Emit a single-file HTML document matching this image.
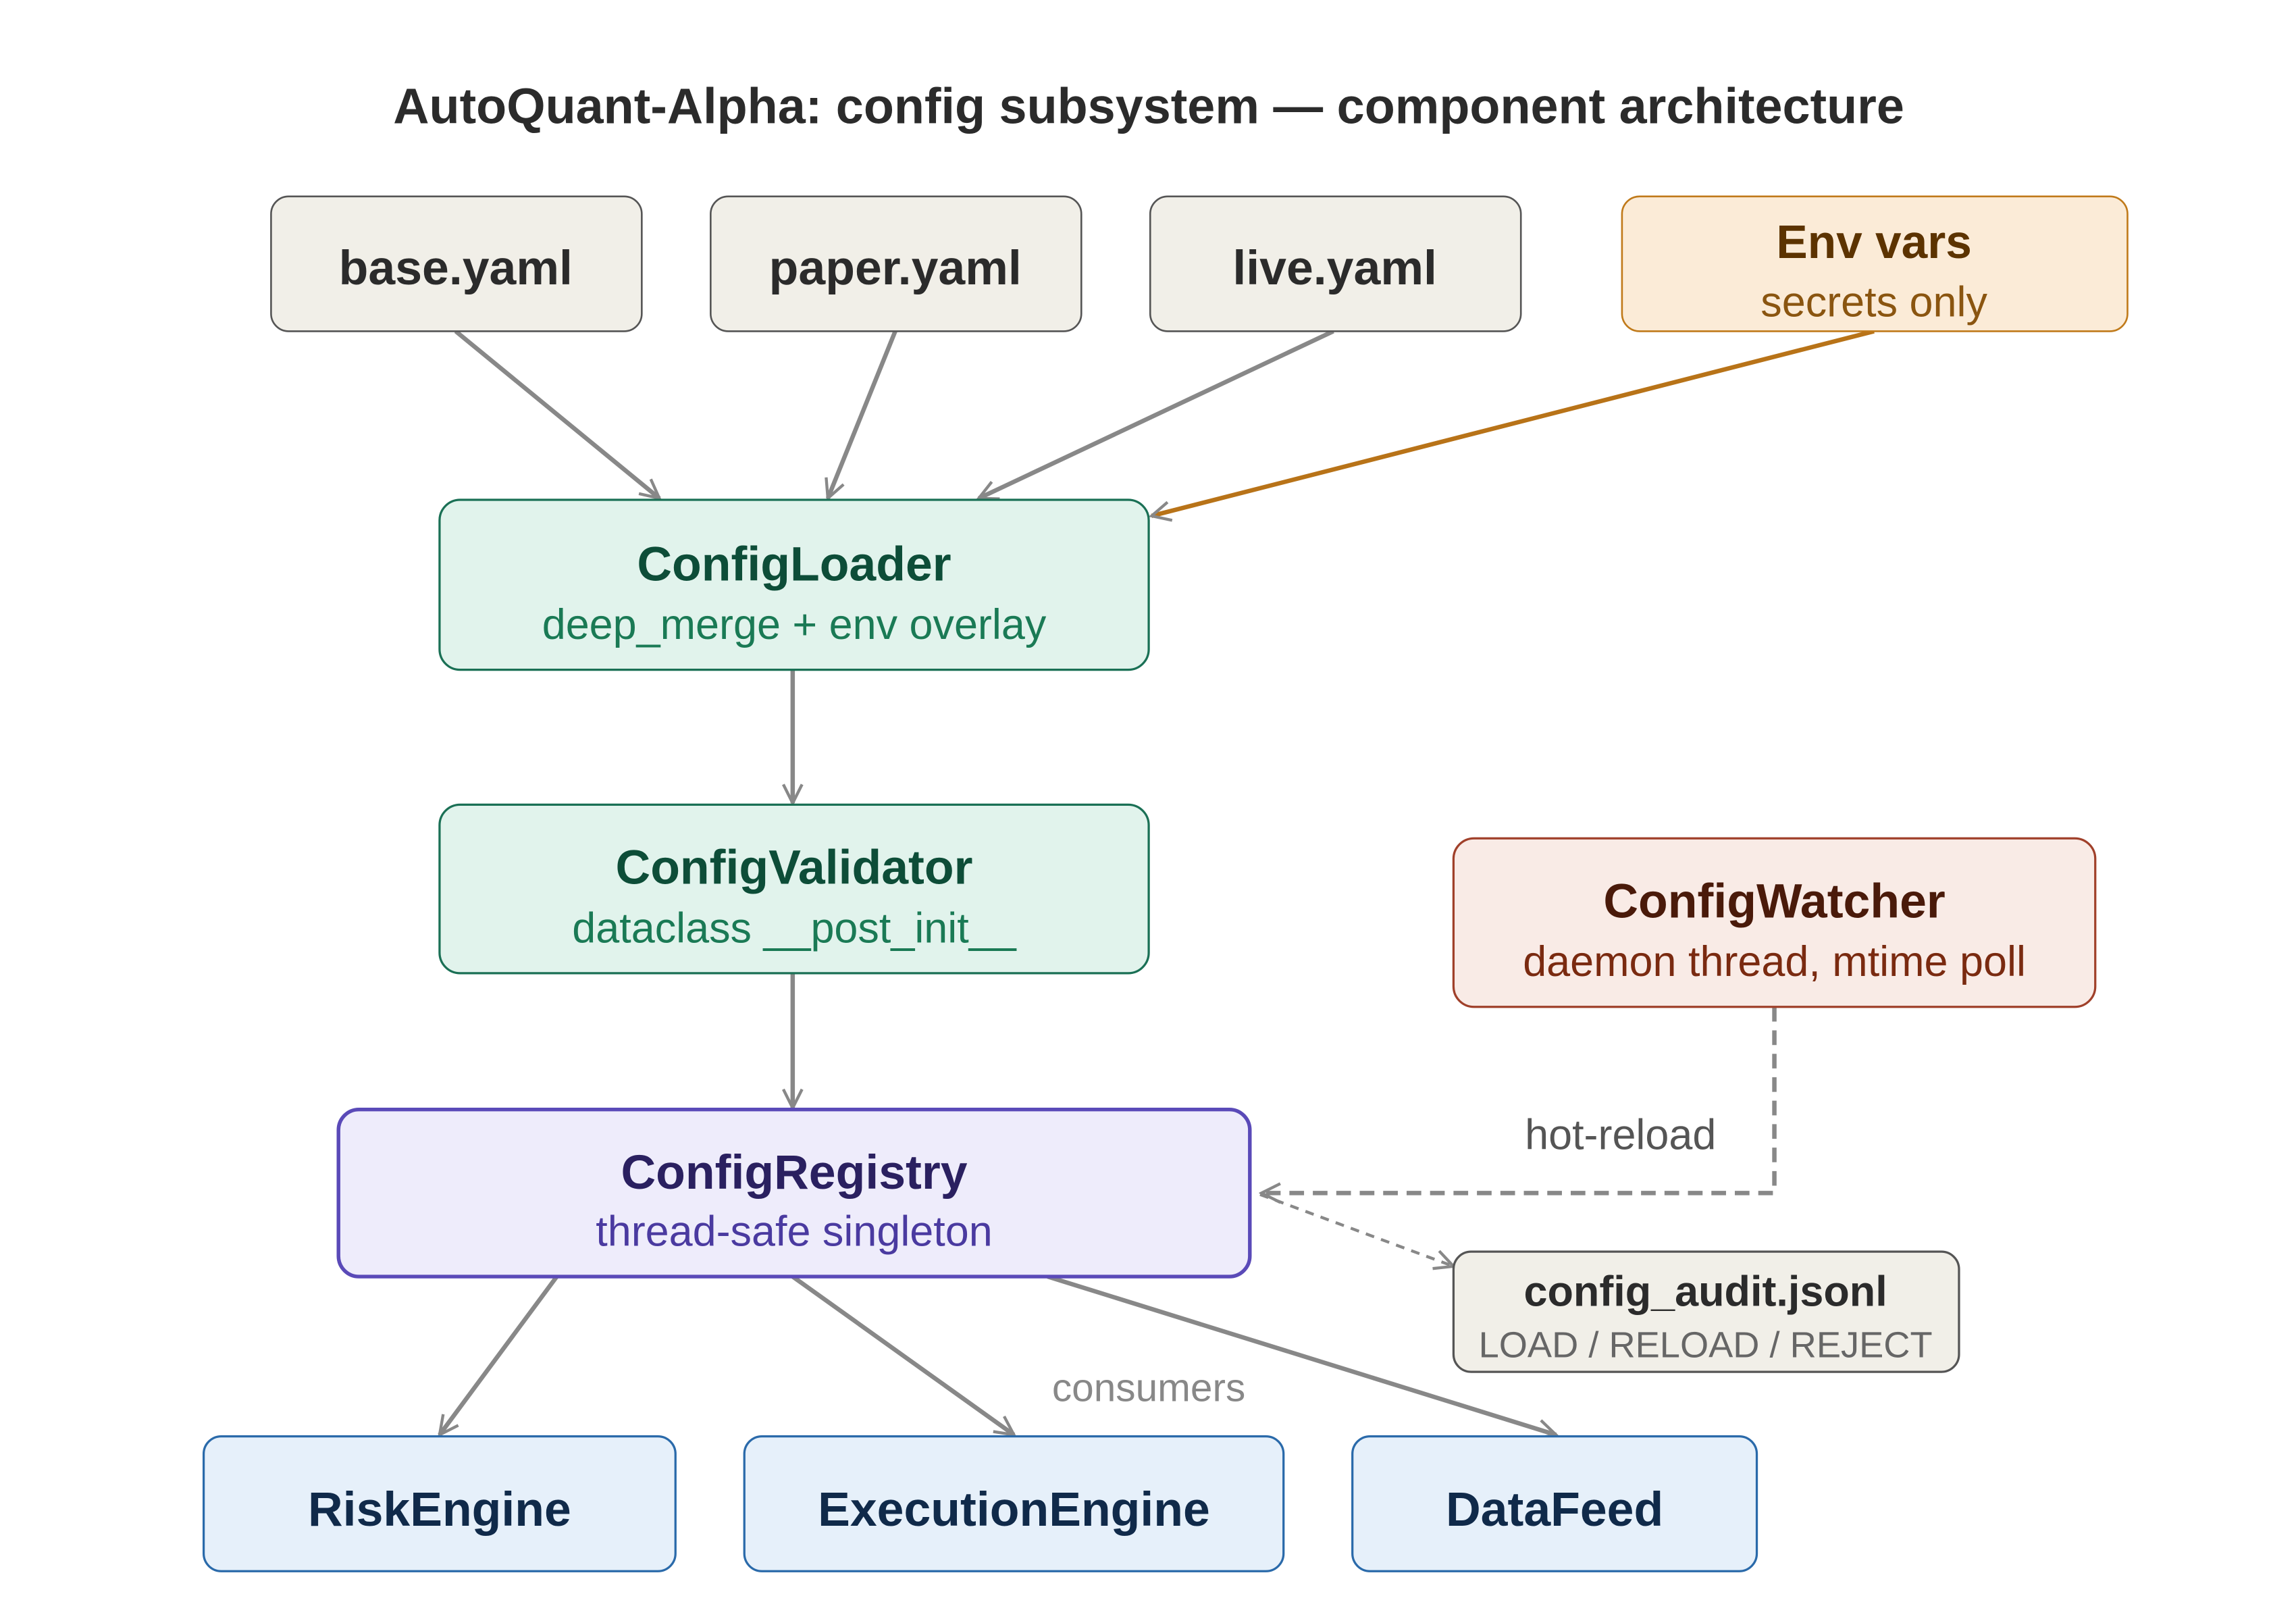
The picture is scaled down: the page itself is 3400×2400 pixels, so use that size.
<!DOCTYPE html>
<html><head><meta charset="utf-8"><style>html,body{margin:0;padding:0;background:#fff}svg{display:block}</style></head>
<body>
<svg width="3400" height="2400" viewBox="0 0 1567 1106" preserveAspectRatio="none" xmlns="http://www.w3.org/2000/svg" font-family="'Liberation Sans', sans-serif">
<defs>
<marker id="a" viewBox="0 0 20 20" refX="18" refY="10" markerWidth="16" markerHeight="16" markerUnits="userSpaceOnUse" orient="auto"><path d="M2,2 L18,10 L2,18" fill="none" stroke="#888" stroke-width="2.5"/></marker>
<marker id="ao" viewBox="0 0 20 20" refX="18" refY="10" markerWidth="16" markerHeight="16" markerUnits="userSpaceOnUse" orient="auto"><path d="M2,2 L18,10 L2,18" fill="none" stroke="#888" stroke-width="2.5"/></marker>
</defs>
<rect width="1567" height="1106" fill="#fff"/>
<text x="784" y="84" text-anchor="middle" font-size="34" font-weight="bold" fill="#2b2b2b">AutoQuant-Alpha: config subsystem — component architecture</text>

<g stroke="#888" stroke-width="3" fill="none" marker-end="url(#a)">
<line x1="311" y1="226" x2="450" y2="340"/>
<line x1="611" y1="226" x2="565" y2="340"/>
<line x1="910" y1="226" x2="668" y2="340"/>
<line x1="541" y1="457" x2="541" y2="548"/>
<line x1="541" y1="664" x2="541" y2="756"/>
<line x1="380" y1="871" x2="300" y2="979"/>
<line x1="541" y1="871" x2="692" y2="979"/>
<line x1="715" y1="871" x2="1062" y2="979"/>
</g>
<line x1="1279" y1="226" x2="786" y2="352" stroke="#b87318" stroke-width="3" marker-end="url(#ao)"/>
<polyline points="1211,687 1211,814 861,814" fill="none" stroke="#888" stroke-width="3" stroke-dasharray="10,6" marker-end="url(#a)"/>
<line x1="860" y1="815" x2="992" y2="864" stroke="#888" stroke-width="2" stroke-dasharray="6,5" marker-end="url(#a)"/>
<text x="1106" y="784" text-anchor="middle" font-size="29" fill="#555">hot-reload</text>
<text x="784" y="956" text-anchor="middle" font-size="27" fill="#888">consumers</text>

<g font-size="33" font-weight="bold" fill="#2b2b2b" text-anchor="middle">
<rect x="185" y="134" width="253" height="92" rx="12" fill="#f1efe8" stroke="#555" stroke-width="1.2"/>
<text x="311" y="194">base.yaml</text>
<rect x="485" y="134" width="253" height="92" rx="12" fill="#f1efe8" stroke="#555" stroke-width="1.2"/>
<text x="611" y="194">paper.yaml</text>
<rect x="785" y="134" width="253" height="92" rx="12" fill="#f1efe8" stroke="#555" stroke-width="1.2"/>
<text x="911" y="194">live.yaml</text>
</g>
<rect x="1107" y="134" width="345" height="92" rx="12" fill="#fbebd7" stroke="#c07a1a" stroke-width="1.2"/>
<text x="1279" y="176" text-anchor="middle" font-size="32" font-weight="bold" fill="#5c3300">Env vars</text>
<text x="1279" y="216" text-anchor="middle" font-size="29" fill="#8a5510">secrets only</text>

<rect x="300" y="341" width="484" height="116" rx="14" fill="#e1f3ec" stroke="#1a7055" stroke-width="1.5"/>
<text x="542" y="396" text-anchor="middle" font-size="33" font-weight="bold" fill="#0d4d38">ConfigLoader</text>
<text x="542" y="436" text-anchor="middle" font-size="29" fill="#1a7a55">deep_merge + env overlay</text>

<rect x="300" y="549" width="484" height="115" rx="14" fill="#e1f3ec" stroke="#1a7055" stroke-width="1.5"/>
<text x="542" y="603" text-anchor="middle" font-size="33" font-weight="bold" fill="#0d4d38">ConfigValidator</text>
<text x="542" y="643" text-anchor="middle" font-size="29" fill="#1a7a55">dataclass __post_init__</text>

<rect x="992" y="572" width="438" height="115" rx="14" fill="#f9ebe6" stroke="#a0402a" stroke-width="1.5"/>
<text x="1211" y="626" text-anchor="middle" font-size="33" font-weight="bold" fill="#4a1a0a">ConfigWatcher</text>
<text x="1211" y="666" text-anchor="middle" font-size="29" fill="#7a2a10">daemon thread, mtime poll</text>

<rect x="231" y="757" width="622" height="114" rx="14" fill="#eeecfb" stroke="#5a4ab8" stroke-width="2.5"/>
<text x="542" y="811" text-anchor="middle" font-size="33" font-weight="bold" fill="#2a2060">ConfigRegistry</text>
<text x="542" y="850" text-anchor="middle" font-size="29" fill="#4a3aa0">thread-safe singleton</text>

<rect x="992" y="854" width="345" height="82" rx="12" fill="#f1efe8" stroke="#555" stroke-width="1.5"/>
<text x="1164" y="891" text-anchor="middle" font-size="29" font-weight="bold" fill="#2b2b2b">config_audit.jsonl</text>
<text x="1164" y="926" text-anchor="middle" font-size="25" fill="#666">LOAD / RELOAD / REJECT</text>

<g font-size="33" font-weight="bold" fill="#102a4a" text-anchor="middle">
<rect x="139" y="980" width="322" height="92" rx="12" fill="#e6f0fa" stroke="#2a6aaa" stroke-width="1.5"/>
<text x="300" y="1041">RiskEngine</text>
<rect x="508" y="980" width="368" height="92" rx="12" fill="#e6f0fa" stroke="#2a6aaa" stroke-width="1.5"/>
<text x="692" y="1041">ExecutionEngine</text>
<rect x="923" y="980" width="276" height="92" rx="12" fill="#e6f0fa" stroke="#2a6aaa" stroke-width="1.5"/>
<text x="1061" y="1041">DataFeed</text>
</g>
</svg>
</body></html>
